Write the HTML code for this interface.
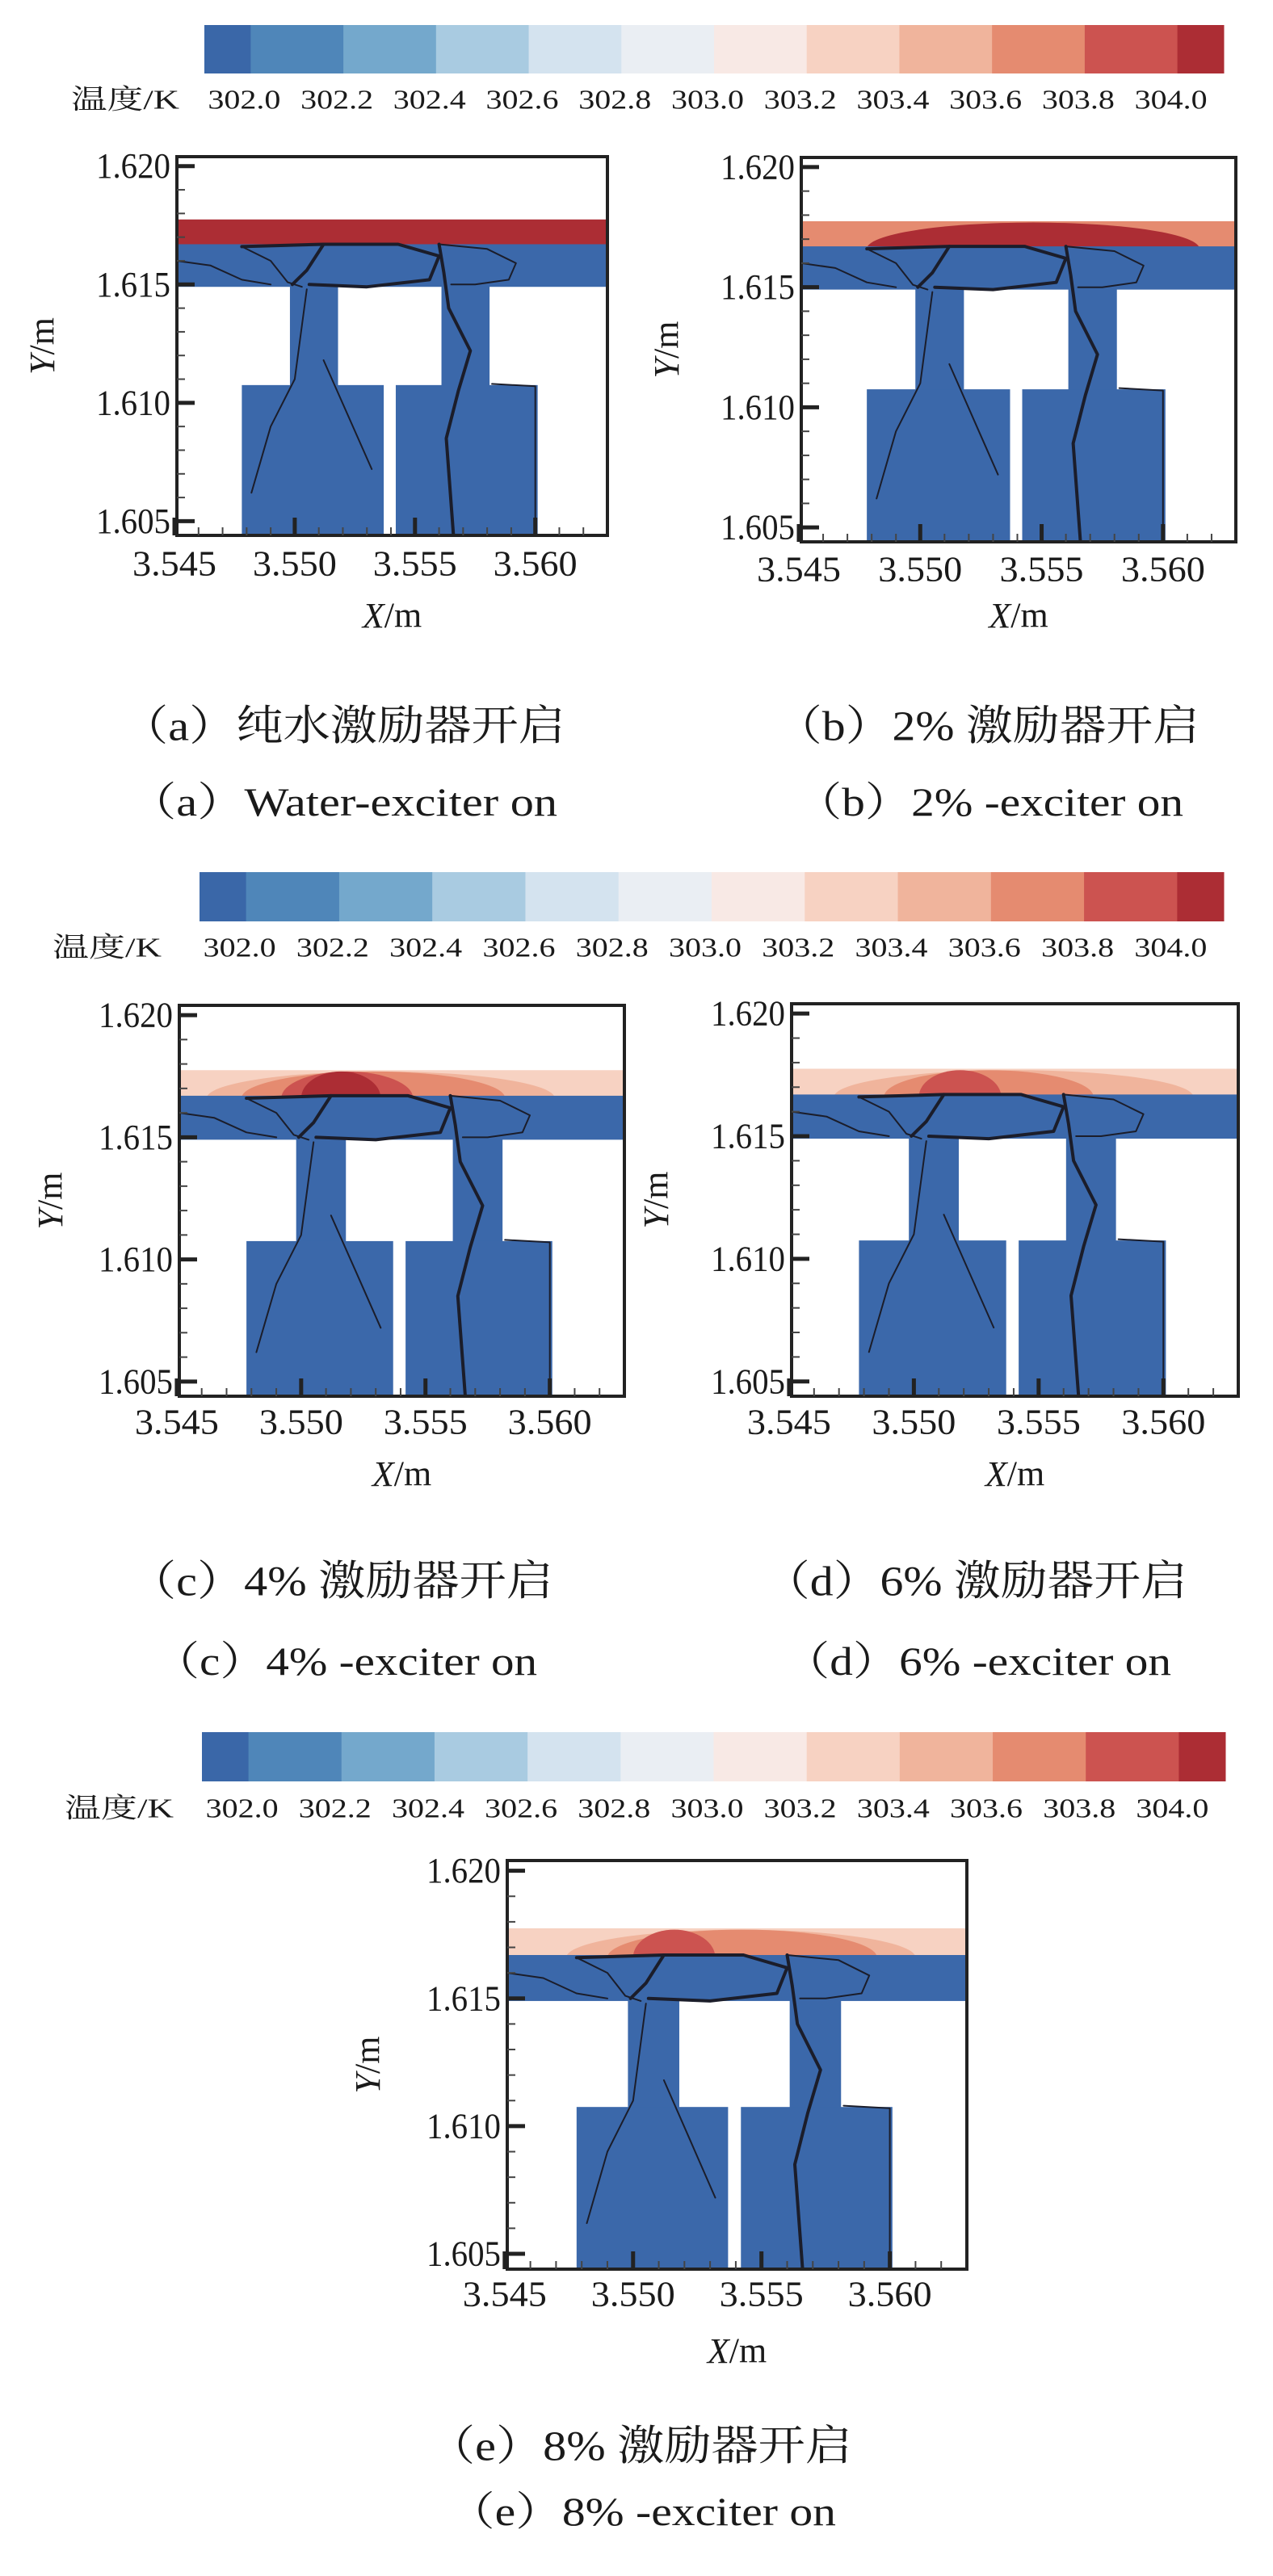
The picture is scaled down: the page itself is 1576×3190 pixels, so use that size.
<!DOCTYPE html>
<html><head><meta charset="utf-8">
<style>
html,body{margin:0;padding:0;background:#fff;}
svg{display:block;}
text{font-family:"Liberation Serif","Noto Serif CJK SC",serif;fill:#1a1a1a;}
.cn{font-family:"Liberation Serif","Noto Serif CJK SC","Noto Sans CJK SC",serif;}
</style></head>
<body>
<svg id="fig" width="1576" height="3190" viewBox="0 0 1576 3190" xmlns="http://www.w3.org/2000/svg">
<defs></defs>
</svg>
<script>
// ---- data ----
const levelLabels = ["302.0","302.2","302.4","302.6","302.8","303.0","303.2","303.4","303.6","303.8","304.0"];
const levelColors = ["#3a67a8","#4f86b9","#74a8cc","#a9cbe1","#d4e3ef","#eaeef3","#f8e9e5","#f7d2c2","#f0b49c","#e58b70","#cc5350","#ac2d34"];
const xTicks = [3.545,3.550,3.555,3.560];
const yTicks = [1.620,1.615,1.610,1.605];
const xDomain = [3.5451,3.5630];
const yDomain = [1.6044,1.6204];
// geometry in data coords
const hotBand = [1.6166,1.61775];
const coldBand = [1.6149,1.6167];
const leftColumn = [3.5498,3.5518];
const rightColumn = [3.5561,3.5581];
const leftBlock = [3.5478,3.5537];
const rightBlock = [3.5542,3.5601];
const blockTop = 1.61075;
// streamlines
const streams = [
 [[3.5451,1.6160],[3.5465,1.6158],[3.5478,1.6152],[3.5490,1.6150]],
 [[3.5478,1.6166],[3.5490,1.6160],[3.5497,1.6151],[3.5503,1.6149]],
 [[3.5478,1.6166],[3.5512,1.6167],[3.5505,1.6156],[3.5499,1.6150]],
 [[3.5512,1.6167],[3.5543,1.6167],[3.5560,1.6162],[3.5556,1.6152],[3.5530,1.6149],[3.5506,1.6150]],
 [[3.5560,1.6167],[3.5580,1.6165],[3.5592,1.6159],[3.5589,1.6152],[3.5575,1.6150],[3.5565,1.6150]],
 [[3.5560,1.6167],[3.5562,1.6155],[3.5564,1.6140],[3.5573,1.6122],[3.5568,1.6105],[3.5563,1.6085],[3.5566,1.6044]],
 [[3.5505,1.6148],[3.5500,1.6110],[3.5490,1.6090],[3.5482,1.6062]],
 [[3.5512,1.6118],[3.5522,1.6095],[3.5532,1.6072]],
 [[3.5582,1.6108],[3.5600,1.6107],[3.5600,1.6044]]
];
// hot spots per panel: [x0,x1,color]
const hotA = [];
const hotB = [[3.5478,3.5615,"#ac2d34"]];
const hotC = [[3.5462,3.5602,"#f0b49c"],[3.5476,3.5582,"#e58b70"],[3.5492,3.5545,"#cc5350"],[3.5500,3.5532,"#ac2d34"]];
const hotD = [[3.5468,3.5612,"#f0b49c"],[3.5488,3.5572,"#e58b70"],[3.5502,3.5535,"#cc5350"]];
const hotE = [[3.5474,3.5610,"#f0b49c"],[3.5490,3.5595,"#e58b70"],[3.5500,3.5532,"#cc5350"]];
const bandBase = ["#ac2d34","#e58b70","#f7d2c2","#f7d2c2","#f7d2c2"];

const NS="http://www.w3.org/2000/svg";
const svg=document.getElementById('fig');
const defs=svg.querySelector('defs');
function mk(tag,attrs,parent){const e=document.createElementNS(NS,tag);for(const k in attrs)e.setAttribute(k,attrs[k]);(parent||svg).appendChild(e);return e;}
function txt(s,x,y,size,len,parent,anchor,extra){const t=mk('text',Object.assign({x:x,y:y,'font-size':size,'text-anchor':anchor||'middle','dominant-baseline':'central'},extra||{}),parent);if(len){t.setAttribute('textLength',len);t.setAttribute('lengthAdjust','spacingAndGlyphs');}t.textContent=s;return t;}

function colorbar(x0,x1,y0,y1,ly,lx0,lx1,name){
  const g=mk('g',{});
  
  
  const n=levelColors.length;
  const unit=(x1-x0)/(n-1);
  let x=x0;
  levelColors.forEach((c,i)=>{
    const w=(i===0||i===n-1)?unit/2:unit;
    const r=mk('rect',{x:x,y:y0,width:w+0.5,height:y1-y0,fill:c},g);
    
    
    x+=w;
  });
  levelLabels.forEach((s,i)=>{
    const t=txt(s,x0+unit/2+i*unit-8,ly,34,90,g);
    
    
  });
  const tl=txt('温度/K',lx0,ly,34,lx1-lx0,g,'start',{class:'cn'});
  
  
}

let pid=0;
function panel(cfg){
  pid++;
  const g=mk('g',{});
  
  
  const [bx0,bx1,by0,by1]=cfg.box;
  const sx=v=>bx0+(v-xDomain[0])/(xDomain[1]-xDomain[0])*(bx1-bx0);
  const sy=v=>by1-(v-yDomain[0])/(yDomain[1]-yDomain[0])*(by1-by0);
  const cp=mk('clipPath',{id:'cp'+pid},defs);
  mk('rect',{x:bx0,y:by0,width:bx1-bx0,height:by1-by0},cp);
  const cb=mk('clipPath',{id:'cb'+pid},defs);
  mk('rect',{x:bx0,y:sy(hotBand[1]),width:bx1-bx0,height:sy(hotBand[0])-sy(hotBand[1])},cb);
  const plot=mk('g',{'clip-path':'url(#cp'+pid+')'},g);
  const hb=mk('g',{'clip-path':'url(#cb'+pid+')'},plot);
  
  
  mk('rect',{x:bx0,y:sy(hotBand[1]),width:bx1-bx0,height:sy(hotBand[0])-sy(hotBand[1]),fill:cfg.base},hb);
  const bh=sy(hotBand[0])-sy(hotBand[1]);
  cfg.hot.forEach(h=>{
    const e=mk('ellipse',{cx:(sx(h[0])+sx(h[1]))/2,cy:sy(hotBand[0]),rx:(sx(h[1])-sx(h[0]))/2,ry:bh*0.95,fill:h[2]},hb);
    
    
  });
  const blue="#3b68aa";
  const fl=mk('g',{fill:blue},plot);
  
  
  mk('rect',{x:bx0,y:sy(coldBand[1]),width:bx1-bx0,height:sy(coldBand[0])-sy(coldBand[1])},fl);
  mk('rect',{x:sx(leftColumn[0]),y:sy(coldBand[0])-1,width:sx(leftColumn[1])-sx(leftColumn[0]),height:sy(blockTop)-sy(coldBand[0])+2},fl);
  mk('rect',{x:sx(rightColumn[0]),y:sy(coldBand[0])-1,width:sx(rightColumn[1])-sx(rightColumn[0]),height:sy(blockTop)-sy(coldBand[0])+2},fl);
  mk('rect',{x:sx(leftBlock[0]),y:sy(blockTop),width:sx(leftBlock[1])-sx(leftBlock[0]),height:by1-sy(blockTop)},fl);
  mk('rect',{x:sx(rightBlock[0]),y:sy(blockTop),width:sx(rightBlock[1])-sx(rightBlock[0]),height:by1-sy(blockTop)},fl);
  streams.forEach((s,i)=>{
    const d='M'+s.map(p=>sx(p[0]).toFixed(1)+','+sy(p[1]).toFixed(1)).join(' L');
    const p=mk('path',{d:d,fill:'none',stroke:'#1b1d2a','stroke-width':(i===5||i===3||i===2)?4:2,'stroke-linejoin':'round','stroke-linecap':'round'},plot);
    
    
  });
  const bx=mk('rect',{x:bx0,y:by0,width:bx1-bx0,height:by1-by0,fill:'none',stroke:'#222','stroke-width':4},g);
  
  
  for(let v=1.604;v<=1.6205;v+=0.001){const y=sy(v);if(y<by0||y>by1)continue;mk('line',{x1:bx0,x2:bx0+10,y1:y,y2:y,stroke:'#444','stroke-width':2},g);}
  for(let v=3.546;v<=3.5625;v+=0.001){const x=sx(v);mk('line',{x1:x,x2:x,y1:by1,y2:by1-10,stroke:'#444','stroke-width':2},g);}
  yTicks.forEach(v=>{const y=sy(v);
    mk('line',{x1:bx0,x2:bx0+22,y1:y,y2:y,stroke:'#222','stroke-width':5},g);
    const t=txt(v.toFixed(3),bx0-8,y,44,92,g,'end');
    
    
  });
  xTicks.forEach(v=>{const x=sx(v);
    mk('line',{x1:x,x2:x,y1:by1,y2:by1-22,stroke:'#222','stroke-width':5},g);
    const t=txt(v.toFixed(3),x,cfg.xly,44,104,g);
    
    
  });
  const xt=txt('',(bx0+bx1)/2,cfg.xty,44,null,g);
  xt.innerHTML='<tspan font-style="italic">X</tspan>/m';
  
  
  const ycx=cfg.ytx, ycy=(by0+by1)/2;
  const yt=txt('',ycx,ycy,44,null,g,'middle',{transform:'rotate(-90 '+ycx+' '+ycy+')'});
  yt.innerHTML='<tspan font-style="italic">Y</tspan>/m';
  
  
  const c1=txt(cfg.cap1,(cfg.c1[0]+cfg.c1[1])/2,cfg.c1[2],52,cfg.c1[1]-cfg.c1[0],g,'middle',{class:'cn'});
  
  
  const c2=txt(cfg.cap2,(cfg.c2[0]+cfg.c2[1])/2,cfg.c2[2],50,cfg.c2[1]-cfg.c2[0],g);
  
  
}

colorbar(253,1515,31,91,124,88,222,'colorbar-top');
colorbar(247,1515,1080,1141,1174,65,200,'colorbar-middle');
colorbar(250,1517,2145,2206,2240,80,215,'colorbar-bottom');

panel({key:'a',box:[219,752,194,663],base:bandBase[0],hot:hotA,xly:698,xty:762,ytx:52,
  cap1:'（a）纯水激励器开启',c1:[150,700,900],cap2:'（a）Water-exciter on',c2:[160,690,993]});
panel({key:'b',box:[992,1530,195,671],base:bandBase[1],hot:hotB,xly:705,xty:762,ytx:825,
  cap1:'（b）2% 激励器开启',c1:[960,1485,900],cap2:'（b）2% -exciter on',c2:[985,1465,993]});
panel({key:'c',box:[222,773,1245,1729],base:bandBase[2],hot:hotC,xly:1761,xty:1825,ytx:62,
  cap1:'（c）4% 激励器开启',c1:[160,685,1959],cap2:'（c）4% -exciter on',c2:[190,665,2057]});
panel({key:'d',box:[980,1533,1243,1729],base:bandBase[3],hot:hotD,xly:1761,xty:1825,ytx:812,
  cap1:'（d）6% 激励器开启',c1:[945,1470,1959],cap2:'（d）6% -exciter on',c2:[970,1450,2057]});
panel({key:'e',box:[628,1197,2304,2810],base:bandBase[4],hot:hotE,xly:2841,xty:2911,ytx:455,
  cap1:'（e）8% 激励器开启',c1:[530,1055,3030],cap2:'（e）8% -exciter on',c2:[555,1035,3110]});
</script>
</body></html>
